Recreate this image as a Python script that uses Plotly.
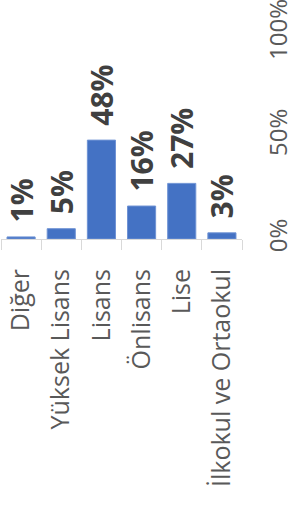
import plotly.graph_objects as go

categories = ["Diğer", "Yüksek Lisans", "Lisans", "Önlisans", "Lise", "İlkokul ve Ortaokul"]
values = [0.01, 0.05, 0.48, 0.16, 0.27, 0.03]
y_ticks = [0, 0.5, 1.0]
y_tick_labels = ["0%", "50%", "100%"]

fig = go.Figure(
    go.Bar(
        x=categories,
        y=values,
        marker=dict(color="#4472C4", line=dict(color="#6f93d4", width=1)),
        texttemplate="<span style='font-size:22px'>\u00a0\u00a0</span>%{y:.0%}",
        textposition="outside",
        textangle=-90,
        textfont=dict(family="Open Sans", size=30, color="#404040", weight="bold"),
        cliponaxis=False,
        constraintext="none",
    )
)

fig.update_layout(
    width=295,
    height=509,
    margin=dict(l=1, r=53, t=33, b=270, autoexpand=False),
    plot_bgcolor="white",
    paper_bgcolor="white",
    bargap=0.3,
    showlegend=False,
    font=dict(family="Open Sans", color="#595959"),
)

fig.update_xaxes(
    type="category",
    tickangle=-90,
    tickfont=dict(size=25, color="#595959"),
    showline=True,
    linecolor="#d9d9d9",
    linewidth=1,
    ticks="outside",
    tickson="boundaries",
    ticklen=10,
    tickcolor="#d9d9d9",
    showgrid=False,
    ticklabelstandoff=19,
    ticklabeloverflow="allow",
    automargin=False,
)

fig.update_yaxes(
    range=[0, 1],
    side="right",
    tickvals=y_ticks,
    ticktext=y_tick_labels,
    tickangle=-90,
    tickfont=dict(size=24, color="#595959"),
    showgrid=False,
    showline=False,
    zeroline=False,
    ticklabelstandoff=20,
    ticklabeloverflow="allow",
    automargin=False,
)

fig.write_html(
    "out.html",
    config={"displayModeBar": False},
    post_script="document.body.style.margin='0';document.body.style.overflow='hidden';",
)
